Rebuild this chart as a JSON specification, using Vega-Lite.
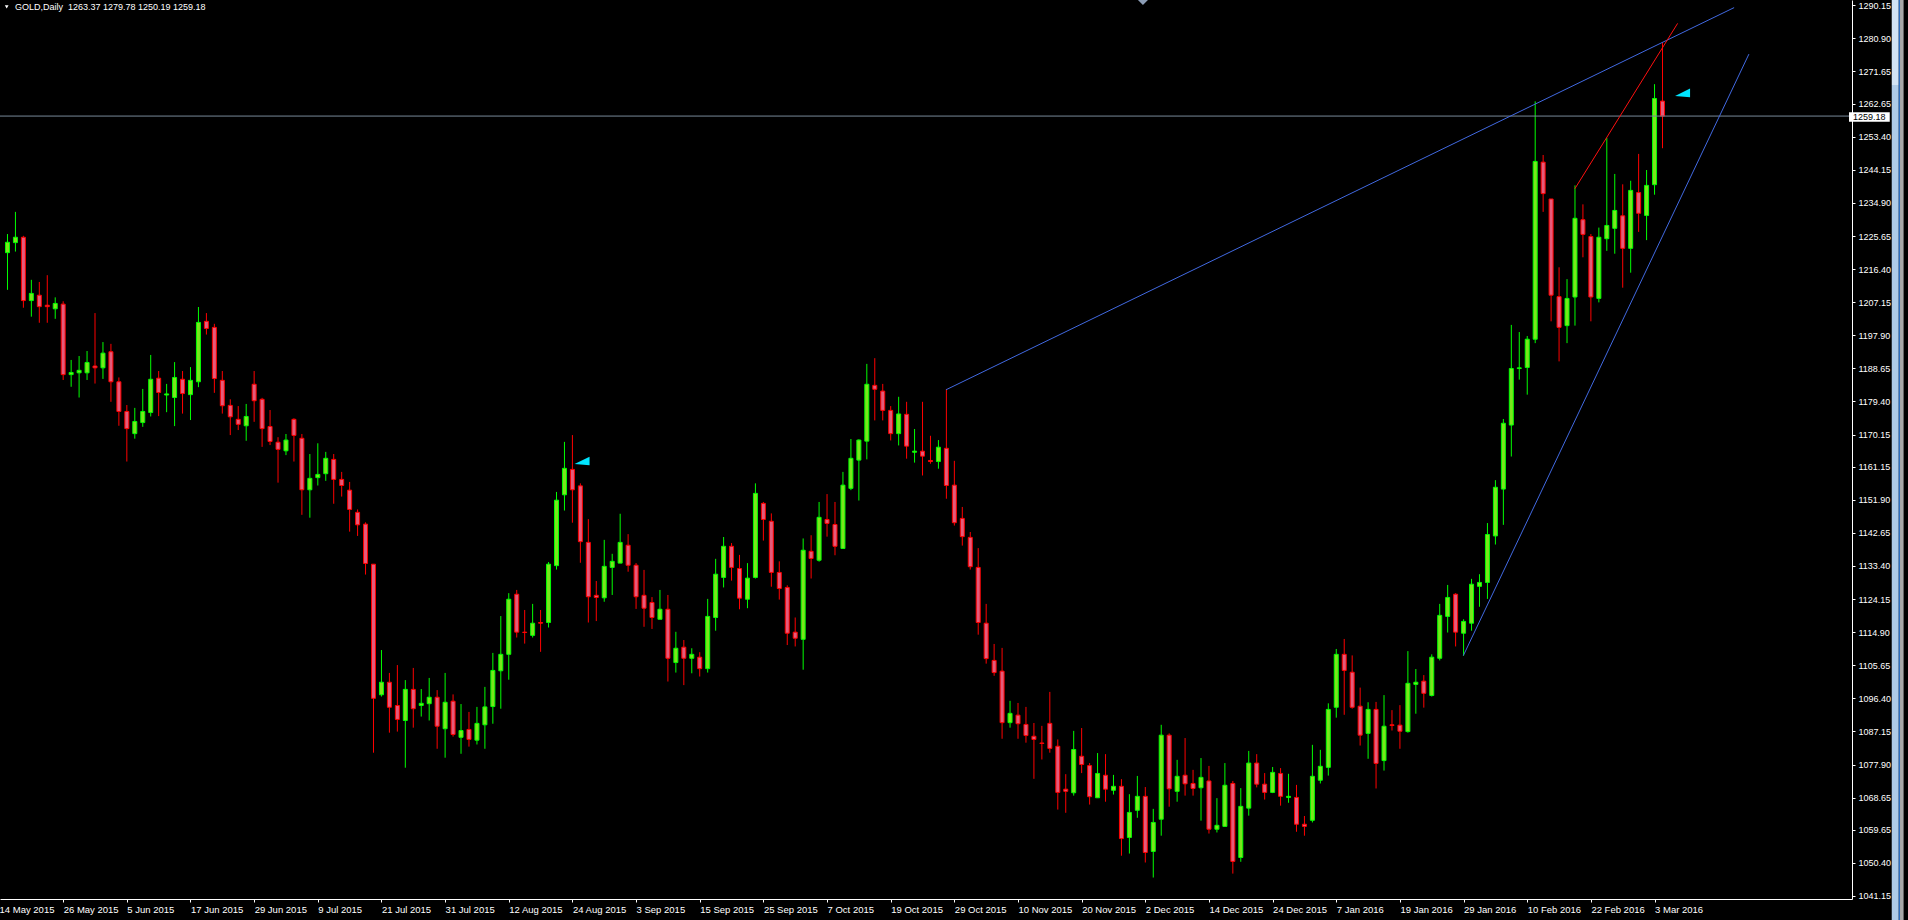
{
"$schema":"https://vega.github.io/schema/vega-lite/v6.json",
"width":1852,"height":899,
"autosize":{"type":"none"},
"padding":{"left":0,"top":0,"right":56,"bottom":21},
"background":"#000000",
"config":{"view":{"stroke":null},"axis":{"grid":false,"domainColor":"#ffffff","tickColor":"#ffffff","labelColor":"#ffffff","labelFont":"Liberation Sans","tickSize":3,"title":null,"labelFlush":false,"labelOverlap":false,"labelBound":false,"domainWidth":1,"tickWidth":1}},
"data":{"values":[
{"i":0,"o":1221.0,"h":1226.2,"l":1210.6,"c":1223.9},
{"i":1,"o":1223.8,"h":1232.4,"l":1221.3,"c":1225.3},
{"i":2,"o":1225.3,"h":1225.7,"l":1205.6,"c":1207.6},
{"i":3,"o":1207.6,"h":1213.4,"l":1203.1,"c":1209.6},
{"i":4,"o":1209.1,"h":1212.8,"l":1201.4,"c":1205.9},
{"i":5,"o":1206.3,"h":1214.7,"l":1201.4,"c":1205.9},
{"i":6,"o":1205.3,"h":1208.5,"l":1202.5,"c":1206.8},
{"i":7,"o":1206.6,"h":1207.4,"l":1185.4,"c":1186.9},
{"i":8,"o":1186.9,"h":1191.0,"l":1183.5,"c":1187.5},
{"i":9,"o":1187.4,"h":1192.1,"l":1180.5,"c":1188.1},
{"i":10,"o":1187.4,"h":1193.5,"l":1185.4,"c":1190.3},
{"i":11,"o":1189.3,"h":1204.1,"l":1184.4,"c":1188.8},
{"i":12,"o":1188.8,"h":1196.0,"l":1185.7,"c":1192.9},
{"i":13,"o":1193.3,"h":1195.5,"l":1179.3,"c":1184.9},
{"i":14,"o":1184.9,"h":1186.1,"l":1172.6,"c":1176.6},
{"i":15,"o":1176.6,"h":1178.4,"l":1162.6,"c":1171.8},
{"i":16,"o":1170.4,"h":1177.6,"l":1169.0,"c":1173.8},
{"i":17,"o":1173.5,"h":1182.9,"l":1172.3,"c":1176.6},
{"i":18,"o":1176.3,"h":1192.4,"l":1175.2,"c":1185.6},
{"i":19,"o":1185.9,"h":1187.9,"l":1175.3,"c":1181.9},
{"i":20,"o":1181.2,"h":1184.3,"l":1176.4,"c":1181.5},
{"i":21,"o":1180.5,"h":1190.4,"l":1172.5,"c":1186.1},
{"i":22,"o":1185.6,"h":1187.9,"l":1176.0,"c":1181.6},
{"i":23,"o":1181.3,"h":1189.0,"l":1174.2,"c":1185.3},
{"i":24,"o":1184.9,"h":1205.8,"l":1183.4,"c":1201.5},
{"i":25,"o":1201.8,"h":1204.1,"l":1198.1,"c":1199.8},
{"i":26,"o":1200.1,"h":1201.1,"l":1181.8,"c":1185.8},
{"i":27,"o":1185.3,"h":1187.9,"l":1176.0,"c":1178.2},
{"i":28,"o":1178.3,"h":1180.0,"l":1170.0,"c":1175.1},
{"i":29,"o":1174.4,"h":1178.1,"l":1171.4,"c":1173.0},
{"i":30,"o":1172.6,"h":1178.7,"l":1168.4,"c":1175.2},
{"i":31,"o":1184.2,"h":1187.9,"l":1173.7,"c":1179.6},
{"i":32,"o":1180.0,"h":1180.4,"l":1166.7,"c":1171.8},
{"i":33,"o":1172.4,"h":1177.0,"l":1167.2,"c":1168.2},
{"i":34,"o":1168.0,"h":1169.4,"l":1156.7,"c":1166.0},
{"i":35,"o":1165.6,"h":1170.3,"l":1164.4,"c":1168.6},
{"i":36,"o":1174.4,"h":1174.7,"l":1162.6,"c":1169.9},
{"i":37,"o":1169.1,"h":1170.3,"l":1147.7,"c":1154.7},
{"i":38,"o":1154.7,"h":1164.7,"l":1146.9,"c":1157.9},
{"i":39,"o":1158.1,"h":1167.7,"l":1155.9,"c":1159.0},
{"i":40,"o":1159.2,"h":1165.3,"l":1157.2,"c":1163.5},
{"i":41,"o":1163.2,"h":1164.7,"l":1150.8,"c":1157.6},
{"i":42,"o":1157.6,"h":1159.7,"l":1152.8,"c":1155.9},
{"i":43,"o":1154.6,"h":1156.9,"l":1143.0,"c":1149.2},
{"i":44,"o":1148.4,"h":1149.2,"l":1141.8,"c":1144.9},
{"i":45,"o":1145.1,"h":1145.6,"l":1131.0,"c":1134.1},
{"i":46,"o":1133.9,"h":1133.9,"l":1081.2,"c":1096.4},
{"i":47,"o":1097.4,"h":1109.9,"l":1096.9,"c":1100.9},
{"i":48,"o":1100.9,"h":1103.5,"l":1086.8,"c":1093.9},
{"i":49,"o":1094.4,"h":1105.7,"l":1087.1,"c":1090.5},
{"i":50,"o":1090.2,"h":1101.5,"l":1077.0,"c":1098.9},
{"i":51,"o":1098.9,"h":1104.9,"l":1088.2,"c":1093.5},
{"i":52,"o":1094.4,"h":1099.0,"l":1091.3,"c":1095.0},
{"i":53,"o":1094.9,"h":1102.1,"l":1090.2,"c":1096.7},
{"i":54,"o":1096.7,"h":1098.7,"l":1082.3,"c":1088.6},
{"i":55,"o":1087.9,"h":1103.5,"l":1079.8,"c":1095.3},
{"i":56,"o":1095.6,"h":1097.5,"l":1085.7,"c":1086.3},
{"i":57,"o":1085.5,"h":1094.8,"l":1080.9,"c":1087.4},
{"i":58,"o":1087.7,"h":1092.6,"l":1082.9,"c":1084.9},
{"i":59,"o":1084.7,"h":1094.0,"l":1083.5,"c":1089.4},
{"i":60,"o":1089.0,"h":1099.6,"l":1082.3,"c":1094.0},
{"i":61,"o":1094.1,"h":1109.1,"l":1089.3,"c":1104.2},
{"i":62,"o":1104.1,"h":1119.4,"l":1093.5,"c":1108.7},
{"i":63,"o":1108.7,"h":1125.8,"l":1101.6,"c":1124.1},
{"i":64,"o":1125.5,"h":1126.7,"l":1113.4,"c":1114.9},
{"i":65,"o":1114.9,"h":1121.1,"l":1111.7,"c":1114.8},
{"i":66,"o":1114.0,"h":1122.8,"l":1113.4,"c":1117.4},
{"i":67,"o":1117.6,"h":1121.1,"l":1109.4,"c":1117.4},
{"i":68,"o":1117.6,"h":1134.5,"l":1116.2,"c":1133.9},
{"i":69,"o":1133.5,"h":1154.1,"l":1132.4,"c":1151.8},
{"i":70,"o":1153.3,"h":1168.1,"l":1148.9,"c":1160.7},
{"i":71,"o":1160.4,"h":1170.0,"l":1145.5,"c":1154.7},
{"i":72,"o":1155.8,"h":1156.5,"l":1134.3,"c":1140.2},
{"i":73,"o":1140.0,"h":1146.5,"l":1117.6,"c":1124.8},
{"i":74,"o":1125.2,"h":1129.2,"l":1118.0,"c":1124.6},
{"i":75,"o":1124.5,"h":1140.7,"l":1123.4,"c":1133.3},
{"i":76,"o":1133.0,"h":1136.8,"l":1125.3,"c":1134.7},
{"i":77,"o":1134.2,"h":1148.0,"l":1134.2,"c":1140.0},
{"i":78,"o":1139.2,"h":1142.3,"l":1131.8,"c":1133.6},
{"i":79,"o":1133.6,"h":1134.2,"l":1121.4,"c":1124.8},
{"i":80,"o":1125.2,"h":1132.3,"l":1116.4,"c":1121.6},
{"i":81,"o":1123.2,"h":1124.7,"l":1115.8,"c":1119.0},
{"i":82,"o":1118.5,"h":1126.7,"l":1118.5,"c":1121.3},
{"i":83,"o":1121.3,"h":1125.3,"l":1101.1,"c":1107.6},
{"i":84,"o":1106.4,"h":1115.0,"l":1103.6,"c":1110.4},
{"i":85,"o":1110.7,"h":1112.7,"l":1100.1,"c":1107.6},
{"i":86,"o":1107.6,"h":1110.4,"l":1103.4,"c":1108.7},
{"i":87,"o":1107.9,"h":1109.3,"l":1102.5,"c":1104.7},
{"i":88,"o":1104.7,"h":1124.2,"l":1103.6,"c":1119.3},
{"i":89,"o":1119.0,"h":1135.4,"l":1115.3,"c":1131.1},
{"i":90,"o":1130.2,"h":1141.5,"l":1127.4,"c":1138.9},
{"i":91,"o":1138.9,"h":1139.8,"l":1129.3,"c":1133.0},
{"i":92,"o":1132.7,"h":1136.5,"l":1121.3,"c":1124.4},
{"i":93,"o":1124.1,"h":1134.2,"l":1121.6,"c":1130.0},
{"i":94,"o":1130.2,"h":1156.5,"l":1129.9,"c":1153.7},
{"i":95,"o":1150.9,"h":1151.3,"l":1140.5,"c":1146.4},
{"i":96,"o":1145.9,"h":1148.1,"l":1127.6,"c":1131.6},
{"i":97,"o":1131.6,"h":1134.7,"l":1124.0,"c":1127.1},
{"i":98,"o":1127.4,"h":1128.0,"l":1111.3,"c":1114.6},
{"i":99,"o":1114.9,"h":1119.0,"l":1110.9,"c":1113.2},
{"i":100,"o":1112.9,"h":1141.1,"l":1104.4,"c":1137.8},
{"i":101,"o":1137.5,"h":1142.0,"l":1129.9,"c":1135.5},
{"i":102,"o":1135.0,"h":1151.3,"l":1134.6,"c":1147.0},
{"i":103,"o":1146.4,"h":1153.5,"l":1141.6,"c":1145.3},
{"i":104,"o":1145.0,"h":1151.3,"l":1136.4,"c":1138.9},
{"i":105,"o":1138.3,"h":1159.7,"l":1138.3,"c":1156.0},
{"i":106,"o":1155.1,"h":1168.9,"l":1154.6,"c":1163.5},
{"i":107,"o":1163.0,"h":1168.8,"l":1151.7,"c":1168.6},
{"i":108,"o":1168.3,"h":1189.9,"l":1163.2,"c":1184.2},
{"i":109,"o":1183.9,"h":1191.5,"l":1174.1,"c":1182.8},
{"i":110,"o":1182.3,"h":1184.3,"l":1174.1,"c":1176.9},
{"i":111,"o":1176.9,"h":1178.1,"l":1168.5,"c":1170.4},
{"i":112,"o":1170.4,"h":1180.7,"l":1167.1,"c":1175.9},
{"i":113,"o":1175.8,"h":1179.3,"l":1163.4,"c":1166.9},
{"i":114,"o":1165.2,"h":1171.7,"l":1162.3,"c":1165.5},
{"i":115,"o":1165.5,"h":1179.3,"l":1158.7,"c":1164.1},
{"i":116,"o":1162.9,"h":1169.8,"l":1162.0,"c":1162.6},
{"i":117,"o":1162.6,"h":1168.6,"l":1160.6,"c":1166.6},
{"i":118,"o":1166.3,"h":1182.9,"l":1152.2,"c":1155.9},
{"i":119,"o":1156.0,"h":1162.8,"l":1144.7,"c":1145.5},
{"i":120,"o":1146.7,"h":1149.9,"l":1139.1,"c":1141.6},
{"i":121,"o":1141.4,"h":1142.9,"l":1132.4,"c":1133.2},
{"i":122,"o":1133.0,"h":1138.4,"l":1114.2,"c":1117.6},
{"i":123,"o":1117.4,"h":1122.8,"l":1106.1,"c":1107.5},
{"i":124,"o":1107.0,"h":1111.6,"l":1102.7,"c":1103.6},
{"i":125,"o":1104.0,"h":1110.5,"l":1085.1,"c":1089.6},
{"i":126,"o":1089.6,"h":1095.7,"l":1088.2,"c":1092.2},
{"i":127,"o":1091.7,"h":1095.1,"l":1085.1,"c":1089.3},
{"i":128,"o":1089.1,"h":1094.0,"l":1084.0,"c":1086.0},
{"i":129,"o":1085.8,"h":1089.5,"l":1073.9,"c":1084.9},
{"i":130,"o":1083.9,"h":1088.7,"l":1079.3,"c":1083.8},
{"i":131,"o":1089.4,"h":1098.2,"l":1081.2,"c":1082.4},
{"i":132,"o":1083.0,"h":1084.9,"l":1065.3,"c":1070.1},
{"i":133,"o":1071.0,"h":1075.2,"l":1064.4,"c":1070.4},
{"i":134,"o":1070.0,"h":1087.3,"l":1069.2,"c":1082.1},
{"i":135,"o":1080.2,"h":1088.1,"l":1075.5,"c":1077.9},
{"i":136,"o":1077.6,"h":1078.3,"l":1066.7,"c":1068.9},
{"i":137,"o":1068.6,"h":1081.1,"l":1068.6,"c":1075.4},
{"i":138,"o":1074.9,"h":1080.8,"l":1067.5,"c":1071.0},
{"i":139,"o":1070.7,"h":1075.0,"l":1069.5,"c":1071.8},
{"i":140,"o":1071.8,"h":1073.8,"l":1052.4,"c":1057.2},
{"i":141,"o":1057.5,"h":1069.6,"l":1053.0,"c":1064.5},
{"i":142,"o":1065.1,"h":1074.7,"l":1063.0,"c":1069.0},
{"i":143,"o":1069.0,"h":1071.6,"l":1050.5,"c":1053.3},
{"i":144,"o":1053.6,"h":1065.5,"l":1046.3,"c":1061.7},
{"i":145,"o":1062.6,"h":1089.0,"l":1058.0,"c":1086.1},
{"i":146,"o":1086.1,"h":1086.6,"l":1066.1,"c":1071.1},
{"i":147,"o":1070.4,"h":1079.2,"l":1067.5,"c":1074.6},
{"i":148,"o":1074.9,"h":1085.3,"l":1069.2,"c":1072.5},
{"i":149,"o":1072.6,"h":1076.4,"l":1069.2,"c":1071.2},
{"i":150,"o":1071.4,"h":1079.7,"l":1062.2,"c":1074.3},
{"i":151,"o":1073.3,"h":1077.5,"l":1058.6,"c":1059.8},
{"i":152,"o":1059.8,"h":1068.5,"l":1058.9,"c":1060.9},
{"i":153,"o":1060.6,"h":1078.3,"l":1060.6,"c":1072.1},
{"i":154,"o":1072.6,"h":1073.3,"l":1047.4,"c":1050.8},
{"i":155,"o":1051.9,"h":1071.3,"l":1050.7,"c":1066.2},
{"i":156,"o":1065.7,"h":1081.7,"l":1063.6,"c":1078.3},
{"i":157,"o":1078.3,"h":1080.8,"l":1071.5,"c":1072.4},
{"i":158,"o":1072.4,"h":1075.5,"l":1068.1,"c":1070.1},
{"i":159,"o":1070.1,"h":1077.2,"l":1069.9,"c":1075.7},
{"i":160,"o":1075.4,"h":1076.9,"l":1066.4,"c":1069.0},
{"i":161,"o":1068.7,"h":1075.3,"l":1067.2,"c":1069.0},
{"i":162,"o":1068.7,"h":1072.2,"l":1059.1,"c":1061.2},
{"i":163,"o":1061.2,"h":1063.5,"l":1058.0,"c":1060.6},
{"i":164,"o":1062.3,"h":1083.4,"l":1061.7,"c":1074.6},
{"i":165,"o":1073.5,"h":1082.0,"l":1072.6,"c":1077.4},
{"i":166,"o":1077.1,"h":1095.0,"l":1074.8,"c":1093.3},
{"i":167,"o":1093.9,"h":1110.2,"l":1091.0,"c":1108.7},
{"i":168,"o":1108.7,"h":1113.0,"l":1091.8,"c":1104.2},
{"i":169,"o":1103.7,"h":1108.4,"l":1093.5,"c":1093.9},
{"i":170,"o":1094.2,"h":1099.4,"l":1083.2,"c":1086.1},
{"i":171,"o":1086.6,"h":1095.3,"l":1079.5,"c":1093.3},
{"i":172,"o":1093.3,"h":1095.4,"l":1071.2,"c":1078.2},
{"i":173,"o":1079.0,"h":1097.3,"l":1076.2,"c":1088.6},
{"i":174,"o":1089.0,"h":1093.1,"l":1087.4,"c":1088.8},
{"i":175,"o":1088.9,"h":1094.5,"l":1082.3,"c":1087.2},
{"i":176,"o":1087.1,"h":1109.6,"l":1086.8,"c":1100.6},
{"i":177,"o":1100.3,"h":1104.6,"l":1092.1,"c":1100.9},
{"i":178,"o":1101.2,"h":1102.9,"l":1093.8,"c":1097.8},
{"i":179,"o":1097.2,"h":1108.7,"l":1096.9,"c":1107.9},
{"i":180,"o":1107.6,"h":1122.8,"l":1107.0,"c":1119.6},
{"i":181,"o":1119.3,"h":1128.1,"l":1114.8,"c":1124.6},
{"i":182,"o":1125.5,"h":1125.8,"l":1110.9,"c":1114.9},
{"i":183,"o":1114.6,"h":1118.5,"l":1108.3,"c":1117.9},
{"i":184,"o":1117.4,"h":1129.8,"l":1115.3,"c":1128.3},
{"i":185,"o":1127.7,"h":1131.1,"l":1122.0,"c":1128.8},
{"i":186,"o":1128.8,"h":1145.4,"l":1124.2,"c":1142.2},
{"i":187,"o":1141.8,"h":1157.4,"l":1139.4,"c":1155.4},
{"i":188,"o":1154.9,"h":1174.5,"l":1144.9,"c":1173.3},
{"i":189,"o":1172.8,"h":1200.8,"l":1164.0,"c":1188.6},
{"i":190,"o":1188.6,"h":1198.8,"l":1185.5,"c":1188.8},
{"i":191,"o":1188.9,"h":1197.7,"l":1181.3,"c":1196.8},
{"i":192,"o":1196.8,"h":1263.3,"l":1195.7,"c":1246.5},
{"i":193,"o":1246.3,"h":1248.3,"l":1232.4,"c":1237.5},
{"i":194,"o":1236.0,"h":1236.0,"l":1201.8,"c":1209.1},
{"i":195,"o":1208.7,"h":1216.9,"l":1190.6,"c":1200.1},
{"i":196,"o":1200.6,"h":1213.6,"l":1195.7,"c":1208.2},
{"i":197,"o":1208.6,"h":1239.8,"l":1200.6,"c":1230.6},
{"i":198,"o":1230.2,"h":1234.5,"l":1219.7,"c":1226.1},
{"i":199,"o":1225.5,"h":1226.2,"l":1201.8,"c":1208.6},
{"i":200,"o":1208.2,"h":1228.0,"l":1207.1,"c":1225.3},
{"i":201,"o":1224.9,"h":1253.1,"l":1221.5,"c":1228.6},
{"i":202,"o":1227.8,"h":1243.0,"l":1220.7,"c":1232.8},
{"i":203,"o":1231.3,"h":1240.1,"l":1211.2,"c":1222.2},
{"i":204,"o":1222.2,"h":1241.1,"l":1215.4,"c":1238.4},
{"i":205,"o":1237.8,"h":1248.6,"l":1226.8,"c":1232.0},
{"i":206,"o":1231.4,"h":1244.1,"l":1224.5,"c":1239.8},
{"i":207,"o":1240.0,"h":1268.1,"l":1237.2,"c":1264.1},
{"i":208,"o":1263.37,"h":1279.78,"l":1250.19,"c":1259.18}
]},
"layer":[
{"mark":{"type":"rule","strokeWidth":1},
 "encoding":{
  "x":{"field":"i","type":"quantitative","scale":{"domain":[-0.3125,231.1875],"nice":false,"zero":false},
   "axis":{"orient":"bottom","tickCount":100,"values":[7,15,23,31,39,47,55,63,71,79,87,95,103,111,119,127,135,143,151,159,167,175,183,191,199,207],
    "labelExpr":"['26 May 2015','5 Jun 2015','17 Jun 2015','29 Jun 2015','9 Jul 2015','21 Jul 2015','31 Jul 2015','12 Aug 2015','24 Aug 2015','3 Sep 2015','15 Sep 2015','25 Sep 2015','7 Oct 2015','19 Oct 2015','29 Oct 2015','10 Nov 2015','20 Nov 2015','2 Dec 2015','14 Dec 2015','24 Dec 2015','7 Jan 2016','19 Jan 2016','29 Jan 2016','10 Feb 2016','22 Feb 2016','3 Mar 2016'][round((datum.value-7)/8)]",
    "labelAlign":"left","labelBaseline":"top","labelPadding":2,"labelFontSize":9.5,"labelOverlap":false,"labelFlush":false,"labelBound":false}},
  "y":{"field":"l","type":"quantitative","scale":{"domain":[1040.30,1291.63],"nice":false,"zero":false},
   "axis":{"orient":"right","tickCount":100,"values":[1290.15,1280.90,1271.65,1262.65,1253.40,1244.15,1234.90,1225.65,1216.40,1207.15,1197.90,1188.65,1179.40,1170.15,1161.15,1151.90,1142.65,1133.40,1124.15,1114.90,1105.65,1096.40,1087.15,1077.90,1068.65,1059.65,1050.40,1041.15],
    "labelExpr":"format(datum.value,'.2f')","labelBaseline":"middle","labelAlign":"left","labelPadding":3,"labelFontSize":9,"labelOverlap":false,"labelFlush":false,"labelBound":false}},
  "y2":{"field":"h"},
  "color":{"condition":{"test":"datum.c >= datum.o","value":"#00ff00"},"value":"#ff0000"}}},
{"mark":{"type":"bar","width":4,"strokeWidth":1},
 "encoding":{
  "x":{"field":"i","type":"quantitative"},
  "y":{"field":"o","type":"quantitative"},
  "y2":{"field":"c"},
  "fill":{"condition":{"test":"datum.c >= datum.o","value":"#7ae61c"},"value":"#e55a7a"},
  "stroke":{"condition":{"test":"datum.c >= datum.o","value":"#00ff00"},"value":"#ff0000"}}},
{"data":{"values":[{"p":1259.18}]},
 "mark":{"type":"rule","color":"#778899","strokeWidth":1},
 "encoding":{"y":{"field":"p","type":"quantitative"}}},
{"data":{"values":[{"g":"b1","i":117.97,"p":1182.68},{"g":"b1","i":217.0,"p":1289.5},{"g":"b2","i":182.97,"p":1108.35},{"g":"b2","i":218.86,"p":1276.5}]},
 "mark":{"type":"line","color":"#4169e1","strokeWidth":1},
 "encoding":{"x":{"field":"i","type":"quantitative"},"y":{"field":"p","type":"quantitative"},"detail":{"field":"g"}}},
{"data":{"values":[{"i":196.98,"p":1238.84},{"i":209.9,"p":1285.09}]},
 "mark":{"type":"line","color":"#ff1010","strokeWidth":1},
 "encoding":{"x":{"field":"i","type":"quantitative"},"y":{"field":"p","type":"quantitative"}}},
{"data":{"values":[{"i":72.21,"p":1162.75},{"i":210.52,"p":1265.66}]},
 "mark":{"type":"point","shape":"M -1 0.4 L 1 -0.58 L 1 0.58 Z","filled":true,"color":"#00e5ff","opacity":1,"size":225},
 "encoding":{"x":{"field":"i","type":"quantitative"},"y":{"field":"p","type":"quantitative"}}},
{"data":{"values":[{"i":142.7,"p":1291.6}]},
 "mark":{"type":"point","shape":"diamond","filled":true,"color":"#8c9db5","opacity":1,"size":100,"clip":true},
 "encoding":{"x":{"field":"i","type":"quantitative"},"y":{"field":"p","type":"quantitative"}}},
{"data":{"values":[{"a":231.44,"b":236.56,"p1":1260.23,"p2":1257.61}]},
 "mark":{"type":"rect","color":"#ffffff"},
 "encoding":{"x":{"field":"a","type":"quantitative"},"x2":{"field":"b"},"y":{"field":"p1","type":"quantitative"},"y2":{"field":"p2"}}},
{"data":{"values":[{"i":231.94,"p":1258.92,"t":"1259.18"}]},
 "mark":{"type":"text","align":"left","baseline":"middle","color":"#000000","font":"Liberation Sans","fontSize":9},
 "encoding":{"x":{"field":"i","type":"quantitative"},"y":{"field":"p","type":"quantitative"},"text":{"field":"t"}}},
{"data":{"values":[{"i":-1,"p":1038.76,"t":"14 May 2015"}]},
 "mark":{"type":"text","align":"left","baseline":"top","color":"#ffffff","font":"Liberation Sans","fontSize":9.5},
 "encoding":{"x":{"field":"i","type":"quantitative"},"y":{"field":"p","type":"quantitative"},"text":{"field":"t"}}},
{"data":{"values":[{"i":0.94,"p":1288.7,"t":"GOLD,Daily\u00a0 1263.37 1279.78 1250.19 1259.18"}]},
 "mark":{"type":"text","align":"left","baseline":"alphabetic","color":"#ffffff","font":"Liberation Sans","fontSize":9},
 "encoding":{"x":{"field":"i","type":"quantitative"},"y":{"field":"p","type":"quantitative"},"text":{"field":"t"}}},
{"data":{"values":[{"i":-0.1,"p":1289.73}]},
 "mark":{"type":"point","shape":"triangle-down","filled":true,"color":"#ffffff","opacity":1,"size":14},
 "encoding":{"x":{"field":"i","type":"quantitative"},"y":{"field":"p","type":"quantitative"}}},
{"data":{"values":[{"a":236.81,"b":237.69,"p1":1267.87,"p2":1034.43}]},
 "mark":{"type":"rect","color":"#aecbe8"},
 "encoding":{"x":{"field":"a","type":"quantitative"},"x2":{"field":"b"},"y":{"field":"p1","type":"quantitative"},"y2":{"field":"p2"}}},
{"data":{"values":[{"a":236.81,"b":237.69,"p1":1291.63,"p2":1267.87}]},
 "mark":{"type":"rect","color":"#d2e3f4"},
 "encoding":{"x":{"field":"a","type":"quantitative"},"x2":{"field":"b"},"y":{"field":"p1","type":"quantitative"},"y2":{"field":"p2"}}},
{"data":{"values":[{"a":237.69,"b":237.85,"p1":1291.63,"p2":1034.43}]},
 "mark":{"type":"rect","color":"#2f6fc0"},
 "encoding":{"x":{"field":"a","type":"quantitative"},"x2":{"field":"b"},"y":{"field":"p1","type":"quantitative"},"y2":{"field":"p2"}}},
{"data":{"values":[{"a":237.85,"b":238.3,"p1":1291.63,"p2":1034.43}]},
 "mark":{"type":"rect","color":"#a8a8a8"},
 "encoding":{"x":{"field":"a","type":"quantitative"},"x2":{"field":"b"},"y":{"field":"p1","type":"quantitative"},"y2":{"field":"p2"}}}
]
}
